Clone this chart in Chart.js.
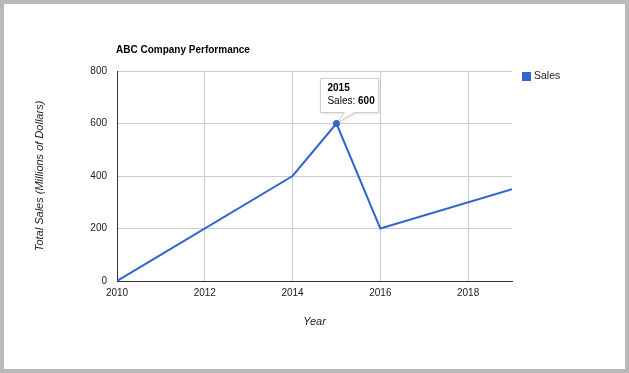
<!DOCTYPE html>
<html>
<head>
<meta charset="utf-8">
<script src="https://cdn.jsdelivr.net/npm/chart.js@4.4.0/dist/chart.umd.min.js"></script>
<style>
  html, body { margin: 0; padding: 0; background: #fff; }
  #wrap { width: 621px; height: 365px; border: 4px solid #b9b9b9; position: relative; }
</style>
</head>
<body>
<div id="wrap"><canvas id="salesChart"></canvas></div>
<script>
// data
const years = [2010, 2014, 2015, 2016, 2019];
const sales = [0, 400, 600, 200, 350];
const xTickStart = 2010, xTickEnd = 2019, xTickStep = 2;
const yTickStart = 0, yTickEnd = 800, yTickStep = 200;
const tipIndex = 2; // 2015 is highlighted

const FONT = 'Arial, "Liberation Sans", sans-serif';
const lineBlue = '#3366cc';

// Title, legend and the hover callout, drawn by hand like Google Charts does
const extras = {
    id: 'extras',
    afterDatasetsDraw(chart) {
        const c = chart.ctx;
        const area = chart.chartArea;
        c.save();

        // title
        c.font = 'bold 10px ' + FONT;
        c.fillStyle = '#000';
        c.textBaseline = 'middle';
        c.textAlign = 'left';
        c.fillText('ABC Company Performance', area.left - 1, 46);

        // legend
        c.fillStyle = lineBlue;
        c.fillRect(area.right + 10, area.top + 1, 9, 9);
        c.font = '10.5px ' + FONT;
        c.fillStyle = '#222';
        c.fillText(chart.data.datasets[0].label, area.right + 22, area.top + 5);

        // callout
        const pt = chart.getDatasetMeta(0).data[tipIndex];
        const px = pt.x, py = pt.y;
        const bx = px - 16, by = py - 45, bw = 58, bh = 34;
        c.shadowColor = 'rgba(0,0,0,0.15)';
        c.shadowBlur = 3;
        c.shadowOffsetX = 1;
        c.shadowOffsetY = 1;
        c.beginPath();
        c.moveTo(bx, by);
        c.lineTo(bx + bw, by);
        c.lineTo(bx + bw, by + bh);
        c.lineTo(px + 18, by + bh);
        c.lineTo(px, py);
        c.lineTo(px + 8, by + bh);
        c.lineTo(bx, by + bh);
        c.closePath();
        c.fillStyle = '#fff';
        c.fill();
        c.shadowColor = 'transparent';
        c.strokeStyle = '#cccccc';
        c.lineWidth = 1;
        c.stroke();

        c.fillStyle = '#000';
        c.font = 'bold 10px ' + FONT;
        c.fillText(String(years[tipIndex]), bx + 7, by + 10);
        c.font = '10px ' + FONT;
        const lab = chart.data.datasets[0].label + ': ';
        c.fillText(lab, bx + 7, by + 23);
        const w = c.measureText(lab).width;
        c.font = 'bold 10px ' + FONT;
        c.fillText(String(sales[tipIndex]), bx + 7 + w, by + 23);

        // redraw highlighted point on top
        c.beginPath();
        c.arc(px, py, 3.5, 0, Math.PI * 2);
        c.fillStyle = lineBlue;
        c.fill();
        c.restore();
    }
};

const ctx = document.getElementById('salesChart').getContext('2d');
const salesChart = new Chart(ctx, {
    type: 'line',
    data: {
        datasets: [{
            label: 'Sales',
            data: years.map((y, i) => ({ x: y, y: sales[i] })),
            borderColor: lineBlue,
            backgroundColor: lineBlue,
            borderWidth: 2,
            pointRadius: 0,
            tension: 0,
            fill: false
        }]
    },
    options: {
        responsive: true,
        maintainAspectRatio: false,
        animation: false,
        events: [],
        layout: { padding: { left: 25, right: 113, top: 67, bottom: 36 } },
        plugins: {
            legend: { display: false },
            title: { display: false },
            tooltip: { enabled: false }
        },
        scales: {
            x: {
                type: 'linear',
                min: xTickStart,
                max: xTickEnd,
                afterFit: (s) => { s.height = 52; },
                ticks: {
                    stepSize: xTickStep,
                    includeBounds: false,
                    maxRotation: 0,
                    padding: 6,
                    color: '#222',
                    font: { family: FONT, size: 10 },
                    callback: (v) => String(v)
                },
                grid: { color: '#cccccc', drawTicks: false },
                border: { color: '#333333', width: 1 },
                title: {
                    display: true,
                    text: 'Year',
                    color: '#222',
                    font: { family: FONT, size: 11, style: 'italic' },
                    padding: { top: 0, bottom: 4 }
                }
            },
            y: {
                min: yTickStart,
                max: yTickEnd,
                afterFit: (s) => { s.width = 88; },
                ticks: {
                    stepSize: yTickStep,
                    padding: 10,
                    color: '#222',
                    font: { family: FONT, size: 10 }
                },
                grid: { color: '#cccccc', drawTicks: false },
                border: { color: '#333333', width: 1 },
                title: {
                    display: true,
                    text: 'Total Sales (Millions of Dollars)',
                    color: '#222',
                    font: { family: FONT, size: 11, style: 'italic' },
                    padding: { top: 4, bottom: 0 }
                }
            }
        }
    },
    plugins: [extras]
});
</script>
</body>
</html>
